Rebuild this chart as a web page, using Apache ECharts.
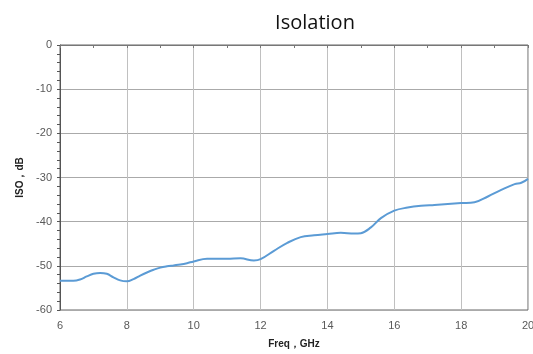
<!DOCTYPE html>
<html><head><meta charset="utf-8">
<script src="https://cdn.jsdelivr.net/npm/echarts@6/dist/echarts.min.js"></script>
<style>html,body{margin:0;padding:0;background:#fff}#c{width:533px;height:354px}</style>
</head><body><div id="c"></div>
<script>
const freq = [6.0,6.4,6.6,6.8,7.0,7.2,7.4,7.6,7.8,8.0,8.2,8.4,8.6,8.8,9.0,9.2,9.4,9.6,9.8,10.0,10.4,11.0,11.4,11.8,12.0,12.4,12.8,13.2,13.6,14.0,14.4,14.8,15.0,15.3,15.6,16.0,16.4,16.8,17.2,17.6,18.0,18.4,18.8,19.2,19.6,19.8,20.0];
const iso = [-53.4,-53.4,-53.1,-52.4,-51.8,-51.6,-51.8,-52.6,-53.3,-53.5,-53.0,-52.2,-51.5,-50.9,-50.4,-50.1,-49.9,-49.7,-49.4,-49.0,-48.4,-48.4,-48.3,-48.8,-48.5,-46.6,-44.8,-43.5,-43.1,-42.8,-42.5,-42.7,-42.6,-41.3,-39.2,-37.5,-36.8,-36.4,-36.2,-36.0,-35.8,-35.6,-34.3,-32.8,-31.5,-31.2,-30.3];
const xTicks = [6,8,10,12,14,16,18,20];
const yTicks = [0,-10,-20,-30,-40,-50,-60];

const chart = echarts.init(document.getElementById('c'));
chart.setOption({
  animation: false,
  title: {text: 'Isolation', left: 310, top: 8, textAlign: 'center',
    textStyle: {fontFamily: 'Open Sans', fontSize: 20, fontWeight: 'normal', color: '#111'}},
  grid: {left: 60, right: 5, top: 45, bottom: 44, show: true, borderColor: '#666', borderWidth: 1,
    containLabel: false, outerBoundsMode: 'none'},
  xAxis: [{
    type: 'value', min: xTicks[0], max: xTicks[xTicks.length-1], interval: 2,
    name: 'Freq，GHz', nameLocation: 'middle', nameGap: 29,
    nameTextStyle: {fontFamily: 'Liberation Sans', fontSize: 10, fontWeight: 'bold', color: '#222'},
    axisLine: {lineStyle: {color: '#777'}},
    axisTick: {show: false},
    axisLabel: {fontFamily: 'Liberation Sans', fontSize: 11, color: '#595959', margin: 10},
    splitLine: {lineStyle: {color: '#c0c0c0'}}
  },{
    type: 'value', position: 'top', min: 6, max: 20, interval: 1,
    axisLine: {show: false}, axisLabel: {show: false}, splitLine: {show: false},
    axisTick: {show: true, inside: true, length: 3, lineStyle: {color: '#777'}}
  }],
  yAxis: {
    type: 'value', min: -60, max: 0, interval: 10,
    name: 'ISO，dB', nameLocation: 'middle', nameGap: 35, nameRotate: 90,
    nameTextStyle: {fontFamily: 'Liberation Sans', fontSize: 10, fontWeight: 'bold', color: '#222'},
    axisLine: {show: true, lineStyle: {color: '#555'}},
    axisTick: {show: true, length: 3, lineStyle: {color: '#555'}},
    minorTick: {show: true, splitNumber: 5, length: 3, lineStyle: {color: '#555'}},
    axisLabel: {fontFamily: 'Liberation Sans', fontSize: 11, color: '#595959', margin: 8},
    splitLine: {lineStyle: {color: '#aaa'}}
  },
  series: [{
    type: 'line', data: freq.map((f,i)=>[f, iso[i]]), smooth: 0.4, showSymbol: false,
    lineStyle: {color: '#5b9bd5', width: 2}
  }]
});
</script></body></html>
